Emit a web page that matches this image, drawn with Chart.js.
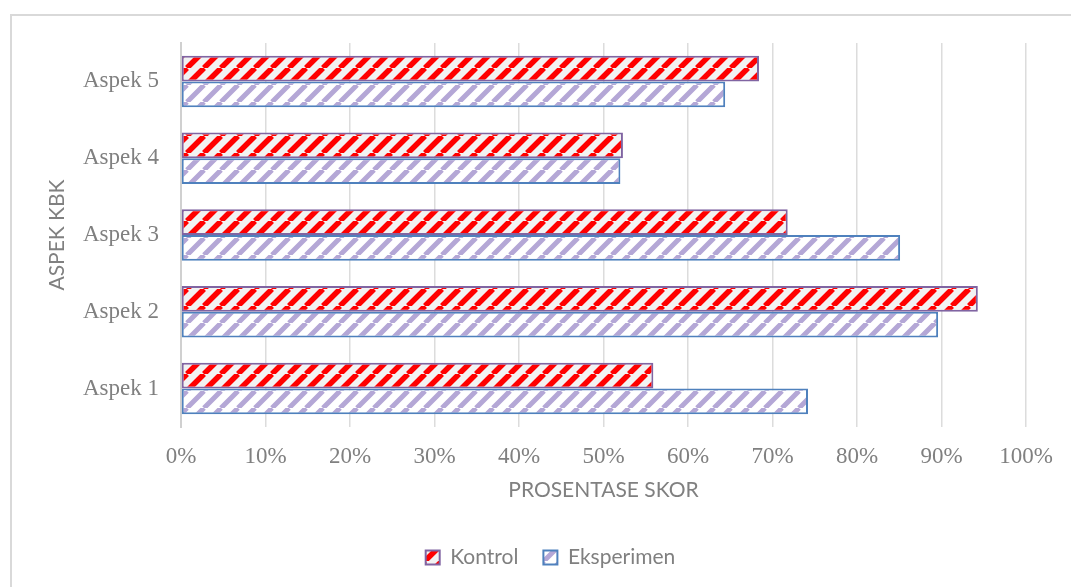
<!DOCTYPE html>
<html lang="en">

<head>
    <meta charset="UTF-8">
    <title>Aspek KBK</title>
    <style>
        body {
            margin: 0;
            background: #fff;
        }
    </style>
</head>

<body>
    <canvas id="barChart" width="1071" height="587"></canvas>
    <script type="text/javascript" src="https://cdn.jsdelivr.net/npm/chart.js@4.4.0/dist/chart.umd.min.js"></script>
    <script type="text/javascript">
        const categories = ["Aspek 5", "Aspek 4", "Aspek 3", "Aspek 2", "Aspek 1"];
        const kontrol = [68.4, 52.3, 71.8, 94.3, 55.9];
        const eksperimen = [64.4, 52.0, 85.1, 89.6, 74.2];
        const xTicks = [0, 10, 20, 30, 40, 50, 60, 70, 80, 90, 100];

        // diagonal "/" stripes like the Office wide upward diagonal fill
        const makePattern = (bg, stripe, width) => {
            const size = 17;
            const c = document.createElement("canvas");
            c.width = size;
            c.height = size;
            const g = c.getContext("2d");
            g.fillStyle = bg;
            g.fillRect(0, 0, size, size);
            g.strokeStyle = stripe;
            g.lineWidth = width;
            g.beginPath();
            for (const k of [-size, 0, size]) {
                g.moveTo(k, size);
                g.lineTo(k + size, 0);
            }
            g.stroke();
            return g.createPattern(c, "repeat");
        };

        const frame = {
            id: "frame",
            beforeDraw(chart) {
                const ctx = chart.ctx;
                ctx.save();
                ctx.strokeStyle = "#d9d9d9";
                ctx.lineWidth = 2;
                ctx.strokeRect(11, 15, 1100, 620);
                ctx.restore();
            }
        };

        const grey = "#808080";
        const sans = "Lato, 'Liberation Sans', sans-serif";
        const serif = "'Liberation Serif', 'Times New Roman', serif";

        const ctx = document.getElementById("barChart").getContext("2d");
        const myChart = new Chart(ctx, {
            type: "bar",
            data: {
                labels: categories,
                datasets: [
                    {
                        label: "Kontrol",
                        data: kontrol,
                        backgroundColor: makePattern("#f2f2f2", "#ff0000", 5.5),
                        borderColor: "#8064a2",
                        borderWidth: 2,
                        borderSkipped: false
                    },
                    {
                        label: "Eksperimen",
                        data: eksperimen,
                        backgroundColor: makePattern("#ffffff", "#b4a7d6", 5),
                        borderColor: "#4f81bd",
                        borderWidth: 2,
                        borderSkipped: false
                    }
                ]
            },
            options: {
                indexAxis: "y",
                responsive: false,
                animation: false,
                categoryPercentage: 0.67,
                barPercentage: 1.0,
                layout: {
                    padding: { top: 43, right: 0, bottom: 9, left: 30 }
                },
                plugins: {
                    tooltip: { enabled: false },
                    legend: {
                        position: "bottom",
                        labels: {
                            boxWidth: 14,
                            boxHeight: 14,
                            padding: 25,
                            color: grey,
                            font: { family: sans, size: 21 }
                        }
                    }
                },
                scales: {
                    x: {
                        min: 0,
                        max: 100,
                        afterBuildTicks: scale => {
                            scale.ticks = xTicks.map(v => ({ value: v }));
                        },
                        afterFit: scale => {
                            scale.height = 95;
                            scale.paddingRight = 45;
                        },
                        grid: {
                            color: "#dcdcdc",
                            lineWidth: 1.5,
                            drawTicks: false
                        },
                        border: { display: false },
                        ticks: {
                            padding: 16,
                            color: grey,
                            font: { family: serif, size: 23 },
                            callback: v => v + "%"
                        },
                        title: {
                            display: true,
                            text: "PROSENTASE SKOR",
                            color: grey,
                            font: { family: sans, size: 21 },
                            padding: { top: 0, bottom: 19 }
                        }
                    },
                    y: {
                        afterFit: scale => {
                            scale.width = 151;
                        },
                        grid: { display: false, drawTicks: false },
                        border: { display: true, color: "#d0d0d0", width: 2 },
                        ticks: {
                            padding: 22,
                            color: grey,
                            font: { family: serif, size: 23 }
                        },
                        title: {
                            display: true,
                            text: "ASPEK KBK",
                            color: grey,
                            font: { family: sans, size: 21 },
                            padding: { top: 15, bottom: 0 }
                        }
                    }
                }
            },
            plugins: [frame]
        });
    </script>
</body>

</html>
